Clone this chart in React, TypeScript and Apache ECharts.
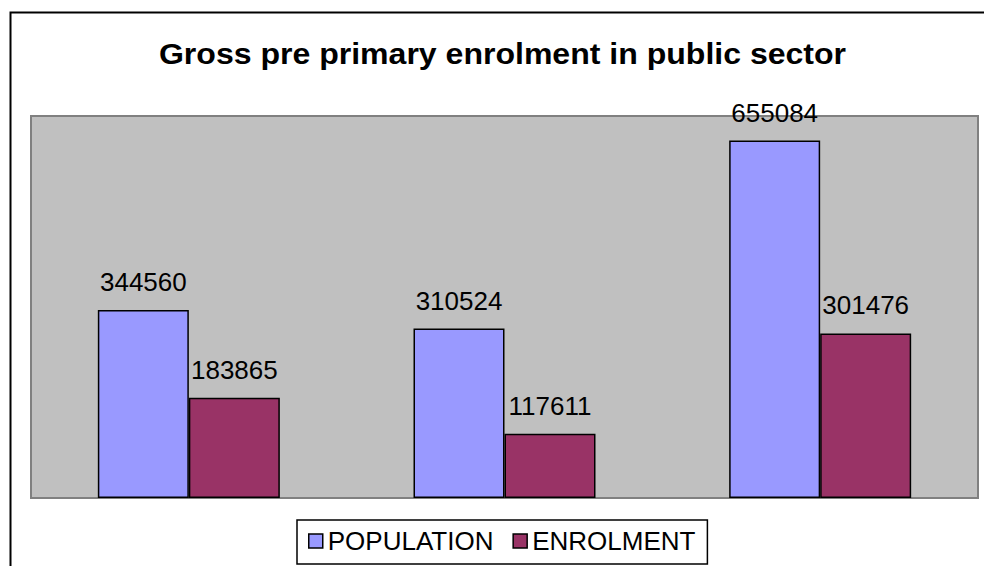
import React, { useEffect, useRef } from "react";
import * as echarts from "echarts";

const categories = ["A", "B", "C"];
const population = [344560, 310524, 655084];
const enrolment = [183865, 117611, 301476];
const titleText = "Gross pre primary enrolment in public sector";
const seriesNames = ["POPULATION", "ENROLMENT"];

export default function App() {
  const ref = useRef<HTMLDivElement>(null);
  useEffect(() => {
    const chart = echarts.init(ref.current!, null, { renderer: "svg" });
    const font = "'Liberation Sans', Arial, sans-serif";
    const label = {
      show: true,
      position: "top",
      distance: 15,
      color: "#000",
      fontSize: 26,
      fontFamily: font,
    };
    chart.setOption({
      animation: false,
      backgroundColor: "#fff",
      graphic: [
        {
          type: "text",
          x: 502.5,
          y: 39,
          scaleX: 1.105,
          silent: true,
          style: {
            text: titleText,
            fill: "#000",
            font: "bold 29px 'Liberation Sans', Arial, sans-serif",
            textAlign: "center",
            textVerticalAlign: "top",
          },
        },
        {
          type: "rect",
          shape: { x: 10.5, y: 12.5, width: 2000, height: 2000 },
          style: { fill: "none", stroke: "#000", lineWidth: 2 },
          z: 100,
          silent: true,
        },
      ],
      legend: {
        left: 297,
        top: 520,
        padding: [8, 12, 10, 11],
        itemGap: 19,
        itemWidth: 14,
        itemHeight: 14,
        icon: "rect",
        borderColor: "#000",
        borderWidth: 1.5,
        borderRadius: 0,
        itemStyle: { borderColor: "#000", borderWidth: 1.5 },
        textStyle: { fontSize: 26, color: "#000", fontFamily: font },
        data: seriesNames,
      },
      grid: {
        left: 31,
        right: 6,
        top: 116,
        bottom: 68,
        show: true,
        backgroundColor: "#C0C0C0",
        borderColor: "#808080",
        borderWidth: 2,
      },
      xAxis: {
        type: "category",
        data: categories,
        show: false,
      },
      yAxis: {
        type: "value",
        min: 0,
        max: 700000,
        show: false,
        splitLine: { show: false },
      },
      series: [
        {
          name: seriesNames[0],
          type: "bar",
          data: population,
          barWidth: 91,
          barGap: "0%",
          itemStyle: { color: "#9999FF", borderColor: "#000", borderWidth: 1.5 },
          label,
        },
        {
          name: seriesNames[1],
          type: "bar",
          data: enrolment,
          barWidth: 91,
          barGap: "0%",
          itemStyle: { color: "#993366", borderColor: "#000", borderWidth: 1.5 },
          label,
        },
      ],
    });
    return () => chart.dispose();
  }, []);
  return (
    <div
      ref={ref}
      style={{ position: "absolute", left: 0, top: 0, width: 984, height: 566 }}
    />
  );
}
